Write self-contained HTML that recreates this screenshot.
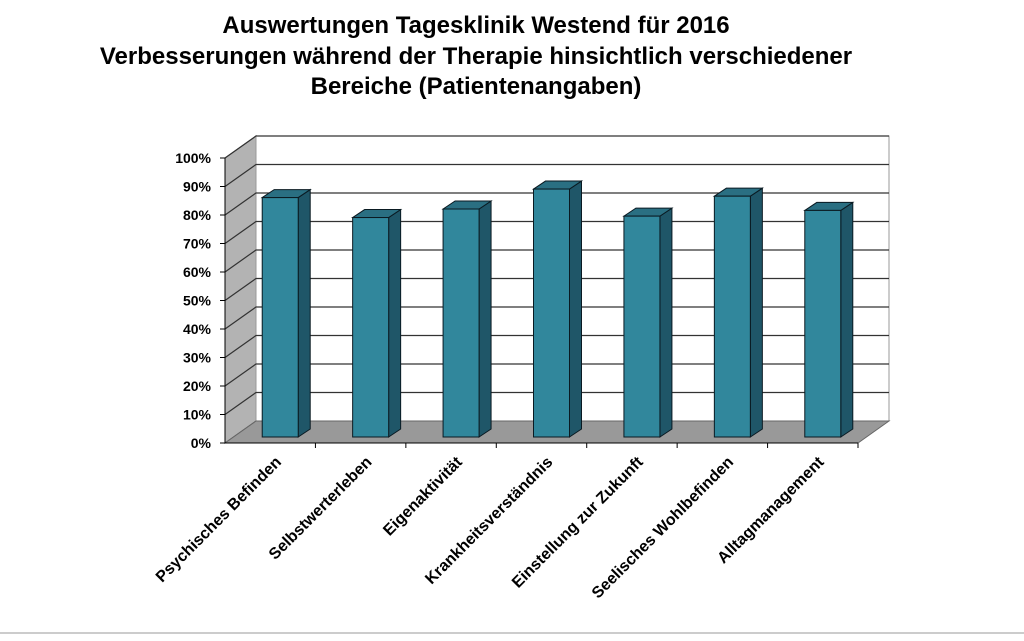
<!DOCTYPE html>
<html><head><meta charset="utf-8"><style>
body{margin:0;background:#fff;width:1024px;height:636px;overflow:hidden;font-family:"Liberation Sans",Arial,sans-serif}
</style></head><body>
<svg width="1024" height="636" xmlns="http://www.w3.org/2000/svg" id="c">
<g font-weight="bold" font-size="24" text-anchor="middle" fill="#000">
<text x="476" y="33">Auswertungen Tagesklinik Westend für 2016</text>
<text x="476" y="64">Verbesserungen während der Therapie hinsichtlich verschiedener</text>
<text x="476" y="94">Bereiche (Patientenangaben)</text>
</g>
<line x1="0" y1="633" x2="1024" y2="633" stroke="#ccc" stroke-width="2"/>
</svg>
<script>
const categories=["Psychisches Befinden","Selbstwerterleben","Eigenaktivität","Krankheitsverständnis","Einstellung zur Zukunft","Seelisches Wohlbefinden","Alltagmanagement"];
const values=[84,77,80,87,77.5,84.5,79.5];
const tickLabels=["0%","10%","20%","30%","40%","50%","60%","70%","80%","90%","100%"];
const tickValues=[0,10,20,30,40,50,60,70,80,90,100];
const svg=document.getElementById('c');
const NS='http://www.w3.org/2000/svg';
const X0=225,X1=858,Y0=443,PPU=2.85,DX=31,DY=-22;
const yF=v=>Y0-v*PPU;
const cw=(X1-X0)/categories.length;
function mk(t,a,name){const e=document.createElementNS(NS,t);for(const k in a)e.setAttribute(k,a[k]);


svg.appendChild(e);return e;}
mk('polygon',{points:`${X0},${yF(100)} ${X0+DX},${yF(100)+DY} ${X0+DX},${Y0+DY} ${X0},${Y0}`,fill:'#b3b3b3',stroke:'#444','stroke-width':1},'side-wall');
mk('rect',{x:X0+DX,y:yF(100)+DY,width:X1-X0,height:100*PPU,fill:'#fff',stroke:'#999','stroke-width':1},'back-wall');
mk('polygon',{points:`${X0},${Y0} ${X1},${Y0} ${X1+DX},${Y0+DY} ${X0+DX},${Y0+DY}`,fill:'#999',stroke:'#666','stroke-width':1},'floor');
tickValues.forEach((v,i)=>{
 const y=yF(v);
 if(v>0){mk('polyline',{points:`${X0},${y} ${X0+DX},${y+DY} ${X1+DX},${y+DY}`,fill:'none',stroke:'#333','stroke-width':1.2},'gridline');}
 mk('line',{x1:X0-5,y1:y,x2:X0,y2:y,stroke:'#000'},'y-tick');
 const t=mk('text',{x:X0-14,y:y+5,'text-anchor':'end','font-size':14,'font-weight':'bold'},'y-tick-label');t.textContent=tickLabels[i];
});
mk('line',{x1:X0,y1:yF(100),x2:X0,y2:Y0,stroke:'#000'},'y-axis');
mk('line',{x1:X0,y1:Y0,x2:X1,y2:Y0,stroke:'#000'},'x-axis');
const bw=36,bdx=12,bdy=-8,off=10,offy=-6;
categories.forEach((c,i)=>{
 mk('line',{x1:X0+cw*(i+1),y1:Y0,x2:X0+cw*(i+1),y2:Y0+5,stroke:'#000'},'x-tick');
 const cx=X0+cw*(i+0.5)+off;const xl=cx-bw/2,xr=cx+bw/2;
 const yb=Y0+offy,yt=yb-values[i]*PPU;
 mk('polygon',{points:`${xr},${yt} ${xr+bdx},${yt+bdy} ${xr+bdx},${yb+bdy} ${xr},${yb}`,fill:'#1f5668',stroke:'#0a1a22'},'bar-side');
 mk('polygon',{points:`${xl},${yt} ${xl+bdx},${yt+bdy} ${xr+bdx},${yt+bdy} ${xr},${yt}`,fill:'#2a6f82',stroke:'#0a1a22'},'bar-top');
 mk('rect',{x:xl,y:yt,width:bw,height:yb-yt,fill:'#31879c',stroke:'#0a1a22'},'bar');
 const lx=X0+cw*(i+0.5)+12,ly=Y0+20;
 const t=mk('text',{x:lx,y:ly,'text-anchor':'end','font-size':16,'font-weight':'bold',transform:`rotate(-45 ${lx} ${ly})`},'x-tick-label');t.textContent=c;
});
</script>
</body></html>
